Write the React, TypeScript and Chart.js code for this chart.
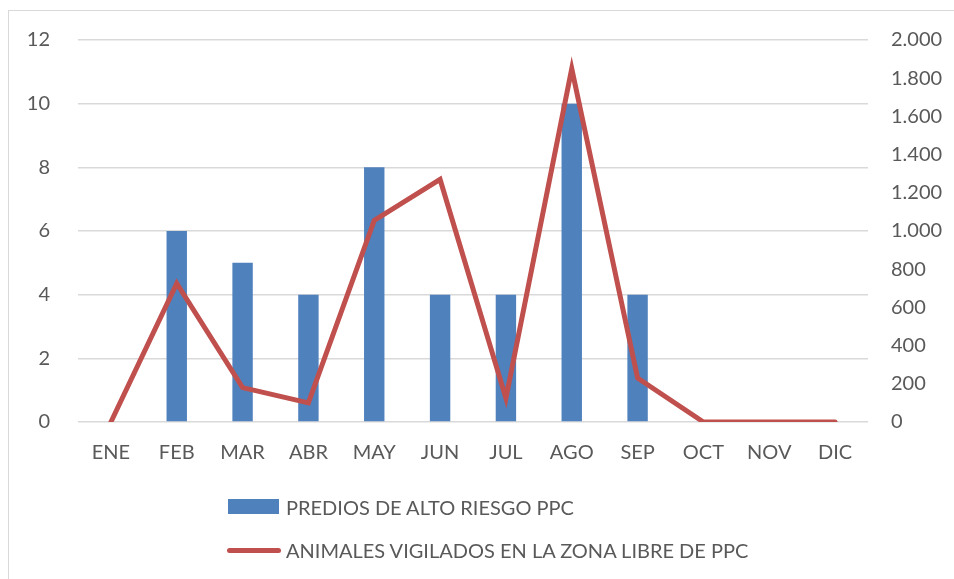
import React, { useEffect, useRef } from "react";
import { Chart, registerables } from "chart.js";

Chart.register(...registerables);

const categories = ["ENE", "FEB", "MAR", "ABR", "MAY", "JUN", "JUL", "AGO", "SEP", "OCT", "NOV", "DIC"];
const prediosAltoRiesgo = [0, 6, 5, 4, 8, 4, 4, 10, 4, 0, 0, 0];
const animalesVigilados = [0, 725, 180, 100, 1055, 1270, 125, 1850, 230, 0, 0, 0];
const barLabel = "PREDIOS DE ALTO RIESGO PPC";
const lineLabel = "ANIMALES VIGILADOS EN LA ZONA LIBRE DE PPC";

const FONT = "Lato, 'Open Sans', sans-serif";
const TEXT = "#595959";
const BAR = "#4F81BD";
const LINE = "#C0504D";

const W = 938;
const H = 561;

function fmtThousands(v: number): string {
  const s = String(Math.round(v));
  return s.replace(/\B(?=(\d{3})+(?!\d))/g, ".");
}

export default function App() {
  const ref = useRef<HTMLCanvasElement | null>(null);

  useEffect(() => {
    document.documentElement.style.overflow = "hidden";
    document.body.style.overflow = "hidden";
    if (!ref.current) return;
    const chart = new Chart(ref.current, {
      type: "bar",
      data: {
        labels: categories,
        datasets: [
          {
            type: "line",
            label: lineLabel,
            data: animalesVigilados,
            yAxisID: "y1",
            borderColor: LINE,
            backgroundColor: LINE,
            borderWidth: 5,
            pointRadius: 0,
            tension: 0,
            borderCapStyle: "round",
            borderJoinStyle: "miter",
            order: 1,
          } as any,
          {
            type: "bar",
            label: barLabel,
            data: prediosAltoRiesgo,
            yAxisID: "y",
            backgroundColor: BAR,
            borderWidth: 0,
            categoryPercentage: 1,
            barPercentage: 0.31,
            order: 2,
          } as any,
        ],
      },
      options: {
        animation: false,
        responsive: false,
        maintainAspectRatio: false,
        layout: { padding: { top: 32, left: 0, right: 0, bottom: 0 } },
        plugins: {
          legend: { display: false },
          tooltip: { enabled: false },
        },
        scales: {
          x: {
            grid: { display: false, drawTicks: false },
            border: { display: false },
            ticks: { color: TEXT, font: { family: FONT, size: 20 }, padding: 19, maxRotation: 0 },
            afterFit: (s: any) => {
              s.height = H - 414;
              s.paddingLeft = 0;
              s.paddingRight = 0;
            },
          },
          y: {
            position: "left",
            min: 0,
            max: 12,
            ticks: { stepSize: 2, color: TEXT, font: { family: FONT, size: 20 }, padding: 28 },
            grid: { color: "#d9d9d9", lineWidth: 1.5, drawTicks: false },
            border: { display: false },
            afterFit: (s: any) => {
              s.width = 70;
              s.paddingTop = 0;
              s.paddingBottom = 0;
            },
          },
          y1: {
            position: "right",
            min: 0,
            max: 2000,
            ticks: {
              stepSize: 200,
              color: TEXT,
              font: { family: FONT, size: 20 },
              padding: 23,
              callback: (v: any) => fmtThousands(Number(v)),
            },
            grid: { display: false, drawTicks: false },
            border: { display: false },
            afterFit: (s: any) => {
              s.width = W - 860;
              s.paddingTop = 0;
              s.paddingBottom = 0;
            },
          },
        },
      } as any,
    });
    return () => chart.destroy();
  }, []);

  const textStyle: React.CSSProperties = {
    position: "absolute",
    left: 278,
    fontFamily: FONT,
    fontSize: 20,
    color: TEXT,
    lineHeight: "22px",
    whiteSpace: "nowrap",
  };

  return (
    <div style={{ position: "relative", width: W, height: H }}>
      <div
        style={{
          position: "fixed",
          left: 8,
          top: 10,
          width: 1200,
          height: 1200,
          borderLeft: "1px solid #d9d9d9",
          borderTop: "1px solid #d9d9d9",
          boxSizing: "border-box",
          pointerEvents: "none",
        }}
      />
      <canvas
        ref={ref}
        width={W}
        height={H}
        style={{ position: "absolute", left: 0, top: 0, width: W, height: H }}
      />
      <div style={{ position: "absolute", left: 220, top: 491, width: 51, height: 15, background: BAR }} />
      <div style={{ ...textStyle, top: 488 }}>{barLabel}</div>
      <div
        style={{
          position: "absolute",
          left: 219,
          top: 540,
          width: 54,
          height: 5,
          borderRadius: 3,
          background: LINE,
        }}
      />
      <div style={{ ...textStyle, top: 531 }}>{lineLabel}</div>
    </div>
  );
}
